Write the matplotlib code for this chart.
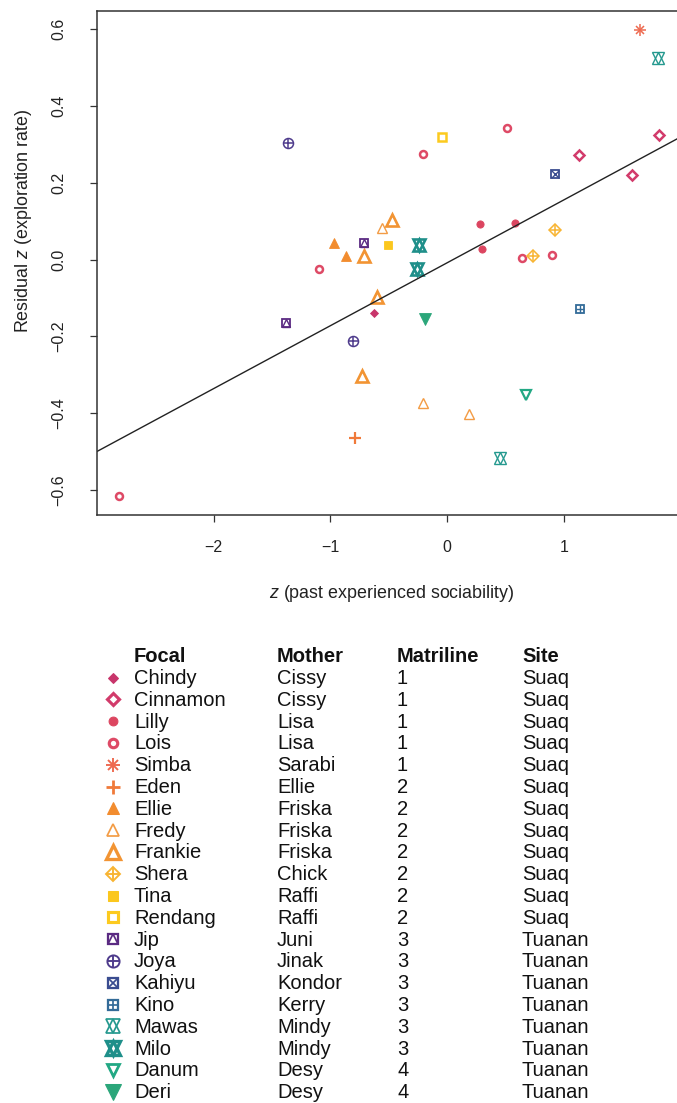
import matplotlib
matplotlib.use('Agg')
import matplotlib.pyplot as plt

W, H, DPI = 677, 1103, 100
plt.rcParams['font.family'] = ['Liberation Sans', 'DejaVu Sans']
plt.rcParams['mathtext.fontset'] = 'custom'
plt.rcParams['mathtext.it'] = 'Liberation Sans:italic'
plt.rcParams['mathtext.rm'] = 'Liberation Sans'

# ---------------- data ----------------
focal = ['Chindy', 'Cinnamon', 'Lilly', 'Lois', 'Simba', 'Eden', 'Ellie', 'Fredy',
         'Frankie', 'Shera', 'Tina', 'Rendang', 'Jip', 'Joya', 'Kahiyu', 'Kino',
         'Mawas', 'Milo', 'Danum', 'Deri']
mother = ['Cissy', 'Cissy', 'Lisa', 'Lisa', 'Sarabi', 'Ellie', 'Friska', 'Friska',
          'Friska', 'Chick', 'Raffi', 'Raffi', 'Juni', 'Jinak', 'Kondor', 'Kerry',
          'Mindy', 'Mindy', 'Desy', 'Desy']
matriline = ['1', '1', '1', '1', '1', '2', '2', '2', '2', '2', '2', '2',
             '3', '3', '3', '3', '3', '3', '4', '4']
site = ['Suaq'] * 12 + ['Tuanan'] * 8

pt_focal = ['Lois', 'Lois', 'Lois', 'Lois', 'Lois', 'Lois',
            'Joya', 'Joya', 'Jip', 'Jip', 'Ellie', 'Ellie',
            'Frankie', 'Frankie', 'Frankie', 'Frankie',
            'Fredy', 'Fredy', 'Fredy', 'Chindy', 'Eden', 'Tina',
            'Milo', 'Milo', 'Deri', 'Rendang',
            'Cinnamon', 'Cinnamon', 'Cinnamon', 'Kahiyu', 'Simba',
            'Mawas', 'Mawas', 'Lilly', 'Lilly', 'Lilly',
            'Shera', 'Shera', 'Kino', 'Danum']
pt_x = [-2.81, -1.10, -0.206, 0.516, 0.642, 0.899,
        -1.36, -0.81, -1.38, -0.715, -0.863, -0.97,
        -0.71, -0.60, -0.73, -0.47,
        -0.555, -0.203, 0.185, -0.63, -0.79, -0.51,
        -0.24, -0.26, -0.186, -0.046,
        1.13, 1.585, 1.82, 0.928, 1.653,
        1.81, 0.457, 0.285, 0.585, 0.296,
        0.928, 0.736, 1.139, 0.673]
pt_y = [-0.615, -0.024, 0.275, 0.342, 0.005, 0.012,
        0.303, -0.211, -0.165, 0.042, 0.010, 0.043,
        0.010, -0.097, -0.302, 0.104,
        0.082, -0.374, -0.403, -0.139, -0.465, 0.038,
        0.039, -0.024, -0.154, 0.319,
        0.273, 0.219, 0.325, 0.222, 0.598,
        0.525, -0.517, 0.092, 0.096, 0.027,
        0.076, 0.010, -0.130, -0.353]

fit_intercept = -0.0085
fit_slope = 0.1637

x_ticks = [-2, -1, 0, 1]
x_tick_labels = ['\u22122', '\u22121', '0', '1']
y_ticks = [-0.6, -0.4, -0.2, 0.0, 0.2, 0.4, 0.6]
y_tick_labels = ['\u22120.6', '\u22120.4', '\u22120.2', '0.0', '0.2', '0.4', '0.6']
headers = ['Focal', 'Mother', 'Matriline', 'Site']

# ---------------- styles ----------------
colors = {
    'Chindy': '#c8356b', 'Cinnamon': '#d23b6b', 'Lilly': '#dc4560', 'Lois': '#de4a66',
    'Simba': '#ee6a50', 'Eden': '#f07a3a', 'Ellie': '#f28c2e', 'Fredy': '#f39c45',
    'Frankie': '#f29433', 'Shera': '#f8b432', 'Tina': '#fbc71e', 'Rendang': '#fcca1f',
    'Jip': '#5a2a82', 'Joya': '#4e3b8c', 'Kahiyu': '#3a4d90', 'Kino': '#336b98',
    'Mawas': '#25998f', 'Milo': '#1f8f8a', 'Danum': '#22a884', 'Deri': '#2ba67a',
}
# layers: (marker, size in points, filled, edge width)
styles = {
    'Chindy': [('D', 3.8, True, 0.6)],
    'Cinnamon': [('D', 5.0, False, 1.8)],
    'Lilly': [('o', 5.2, True, 0.6)],
    'Lois': [('o', 5.0, False, 1.8)],
    'Simba': [('+', 8.6, False, 1.1), ('x', 6.1, False, 1.1)],
    'Eden': [('+', 8.6, False, 1.6)],
    'Ellie': [('^', 6.5, True, 0.6)],
    'Fredy': [('^', 7.6, False, 1.0)],
    'Frankie': [('^', 8.0, False, 1.9)],
    'Shera': [('D', 6.0, False, 1.1), ('+', 8.4, False, 1.1)],
    'Tina': [('s', 5.6, True, 0.6)],
    'Rendang': [('s', 6.0, False, 1.8)],
    'Jip': [('s', 6.3, False, 1.3), ('^', 6.3, False, 1.0)],
    'Joya': [('o', 7.2, False, 1.1), ('+', 7.2, False, 1.1)],
    'Kahiyu': [('s', 6.3, False, 1.3), ('x', 6.3, False, 1.0)],
    'Kino': [('s', 6.3, False, 1.3), ('+', 6.3, False, 1.0)],
    'Mawas': [('^', 8.4, False, 1.0), ('v', 8.4, False, 1.0)],
    'Milo': [('^', 8.2, False, 1.9), ('v', 8.2, False, 1.9)],
    'Danum': [('v', 7.6, False, 1.6)],
    'Deri': [('v', 9.0, True, 0.6)],
}


def draw(ax, xs, ys, name, scale=1.0, wscale=1.0, **kw):
    c = colors[name]
    for m, s, filled, lw in styles[name]:
        ax.plot(xs, ys, ls='none', marker=m, ms=s * scale, mfc=c if filled else 'none',
                mec=c, mew=lw * wscale, **kw)


fig = plt.figure(figsize=(W / DPI, H / DPI), dpi=DPI)

# ---------------- legend table (pixel coordinates) ----------------
lax = fig.add_axes([0, 0, 1, 1])
lax.set_xlim(0, W)
lax.set_ylim(H, 0)
lax.axis('off')
col_x = [134, 277, 397, 522]
row0 = 655.7
row_h = 21.8
base_off = 6.5
for j, htxt in enumerate(headers):
    lax.text(col_x[j], row0 + base_off, htxt, fontsize=14.5, fontweight='bold',
             color='#111111', va='baseline', ha='left')
for i, name in enumerate(focal):
    yc = row0 + row_h * (i + 1)
    draw(lax, [113], [yc], name, scale=1.22, wscale=1.25, clip_on=False)
    for j, val in enumerate([name, mother[i], matriline[i], site[i]]):
        lax.text(col_x[j], yc + base_off, val, fontsize=14.5, color='#111111',
                 va='baseline', ha='left')

# ---------------- scatter plot ----------------
left_px, top_px, bottom_px = 97, 11, 515
xlim = (-3.0, 2.2)
px_per_unit = 116.7
right_px = left_px + (xlim[1] - xlim[0]) * px_per_unit
ax = fig.add_axes([left_px / W, 1 - bottom_px / H, (right_px - left_px) / W,
                   (bottom_px - top_px) / H])
ax.patch.set_alpha(0)
ax.set_xlim(*xlim)
ax.set_ylim(-0.665, 0.647)

for name in focal:
    xs = [x for x, f in zip(pt_x, pt_focal) if f == name]
    ys = [y for y, f in zip(pt_y, pt_focal) if f == name]
    if xs:
        draw(ax, xs, ys, name)

ax.axline((0, fit_intercept), slope=fit_slope, color='#222222', lw=1.0)

ax.set_xticks(x_ticks)
ax.set_xticklabels(x_tick_labels)
ax.set_yticks(y_ticks)
ax.set_yticklabels(y_tick_labels, rotation=90, va='center')
ax.tick_params(axis='both', direction='out', length=5, width=0.9, color='#333333',
               labelsize=11.5, labelcolor='#222222')
ax.tick_params(axis='x', pad=13)
ax.tick_params(axis='y', pad=17)
for sp in ax.spines.values():
    sp.set_linewidth(1.1)
    sp.set_color('#333333')

fig.text(392 / W, 1 - 593 / H, r'$z$ (past experienced sociability)', fontsize=12.9,
         ha='center', va='center', color='#222222')
fig.text(24 / W, 1 - 221 / H, r'Residual $z$ (exploration rate)', fontsize=12.9,
         ha='center', va='center', rotation=90, color='#222222')

fig.savefig('out.png', dpi=DPI)
